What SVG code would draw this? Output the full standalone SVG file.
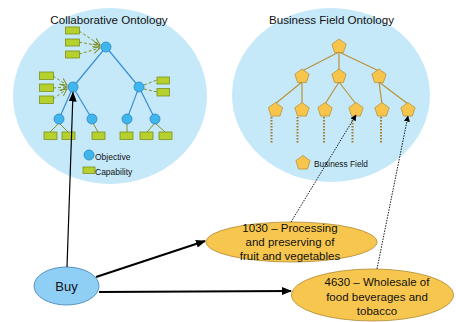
<svg xmlns="http://www.w3.org/2000/svg" width="456" height="322" viewBox="0 0 456 322">
<style>
.t{font-family:"Liberation Sans",Arial,sans-serif;fill:#111}
.obj{fill:#3fb6ec;stroke:#2a86c4;stroke-width:0.8}
.cap{fill:#b6d12e;stroke:#7b901c;stroke-width:0.8}
.bl{stroke:#3a8fd4;stroke-width:1.2;fill:none}
.ol{stroke:#7f9126;stroke-width:1;fill:none}
.od{stroke:#7f9126;stroke-width:1;fill:none;stroke-dasharray:3,2}
.pen{fill:#f8c54c;stroke:#b8923a;stroke-width:0.8}
.br{stroke:#b8923a;stroke-width:1.2;fill:none}
.bd{stroke:#a07a2a;stroke-width:2;fill:none;stroke-dasharray:1.5,1.5}
.blk{stroke:#000;fill:none}
</style>
<defs>
<path id="pent" d="M0,-7.5 L7.13,-2.32 L4.41,6.07 L-4.41,6.07 L-7.13,-2.32 Z"/>
<marker id="ah" markerWidth="10" markerHeight="8" refX="9" refY="4" orient="auto" markerUnits="userSpaceOnUse">
<path d="M0,0 L10,4 L0,8 Z" fill="#000"/>
</marker>
<marker id="ahs" markerWidth="6" markerHeight="6" refX="5.5" refY="3" orient="auto" markerUnits="userSpaceOnUse">
<path d="M0,0 L6,3 L0,6 Z" fill="#000"/>
</marker>
<marker id="oa" markerWidth="8" markerHeight="8" refX="7" refY="4" orient="auto" markerUnits="userSpaceOnUse">
<path d="M0,0.5 L7,4 L0,7.5" fill="none" stroke="#7f9126" stroke-width="1"/>
</marker>
</defs>
<rect width="456" height="322" fill="#fff"/>

<g id="collaborative-ontology">
<ellipse cx="110" cy="96" rx="97" ry="88" fill="#c6e9fa"/>
<text class="t" x="109" y="24" font-size="11.6" text-anchor="middle">Collaborative Ontology</text>
<g id="co-lines">
<line class="bl" x1="106" y1="47" x2="73" y2="87"/>
<line class="bl" x1="106" y1="47" x2="139" y2="87"/>
<line class="bl" x1="73" y1="87" x2="59" y2="119"/>
<line class="bl" x1="73" y1="87" x2="92" y2="119"/>
<line class="bl" x1="139" y1="87" x2="127" y2="119"/>
<line class="bl" x1="139" y1="87" x2="155" y2="119"/>
<line class="ol" x1="59" y1="123" x2="50" y2="132"/>
<line class="ol" x1="59" y1="123" x2="68" y2="132"/>
<line class="ol" x1="93" y1="123" x2="98" y2="132"/>
<line class="ol" x1="127" y1="124" x2="127" y2="132"/>
<line class="ol" x1="155" y1="123" x2="147" y2="132"/>
<line class="ol" x1="155" y1="123" x2="165" y2="132"/>
<line class="od" x1="79" y1="31" x2="100" y2="45" marker-end="url(#oa)"/>
<line class="od" x1="79" y1="42" x2="100" y2="46" marker-end="url(#oa)"/>
<line class="od" x1="79" y1="54" x2="100" y2="48" marker-end="url(#oa)"/>
<line class="od" x1="53" y1="76" x2="67" y2="85" marker-end="url(#oa)"/>
<line class="od" x1="53" y1="88" x2="67" y2="87" marker-end="url(#oa)"/>
<line class="od" x1="53" y1="99" x2="67" y2="89" marker-end="url(#oa)"/>
<line class="od" x1="144" y1="85" x2="157" y2="80"/>
<line class="od" x1="144" y1="89" x2="157" y2="92"/>
</g>
<g id="co-objectives">
<circle class="obj" cx="106" cy="47" r="5"/>
<circle class="obj" cx="73" cy="87" r="5"/>
<circle class="obj" cx="139" cy="87" r="5"/>
<circle class="obj" cx="59" cy="119" r="5"/>
<circle class="obj" cx="92" cy="119" r="5"/>
<circle class="obj" cx="127" cy="119" r="5"/>
<circle class="obj" cx="155" cy="119" r="5"/>
</g>
<g id="co-capabilities">
<rect class="cap" x="65.5" y="27" width="14" height="7"/>
<rect class="cap" x="65.5" y="39" width="14" height="7"/>
<rect class="cap" x="65.5" y="51" width="14" height="7"/>
<rect class="cap" x="39.5" y="72" width="14" height="7.5"/>
<rect class="cap" x="39.5" y="84" width="14" height="7.5"/>
<rect class="cap" x="39.5" y="96" width="14" height="7.5"/>
<rect class="cap" x="157" y="77" width="12.5" height="7"/>
<rect class="cap" x="157" y="88.5" width="12.5" height="7.5"/>
<rect class="cap" x="44" y="132" width="13" height="7.5"/>
<rect class="cap" x="62" y="132" width="13" height="7.5"/>
<rect class="cap" x="92" y="132" width="13" height="7.5"/>
<rect class="cap" x="120" y="132" width="13" height="7.5"/>
<rect class="cap" x="140" y="132" width="13" height="7.5"/>
<rect class="cap" x="159" y="132" width="13" height="7.5"/>
</g>
<g id="co-legend">
<circle class="obj" cx="89" cy="155" r="5"/>
<text class="t" x="95" y="160" font-size="8.5">Objective</text>
<rect class="cap" x="83" y="167" width="12" height="6.5"/>
<text class="t" x="95" y="175" font-size="8.5">Capability</text>
</g>
</g>

<g id="business-field-ontology">
<ellipse cx="331" cy="95" rx="99" ry="87" fill="#c6e9fa"/>
<text class="t" x="331.5" y="24" font-size="11.6" text-anchor="middle">Business Field Ontology</text>
<g id="bf-lines">
<line class="br" x1="339" y1="52" x2="302" y2="71"/>
<line class="br" x1="339" y1="52" x2="339" y2="71"/>
<line class="br" x1="339" y1="52" x2="379" y2="71"/>
<line class="br" x1="302" y1="82" x2="275" y2="104"/>
<line class="br" x1="302" y1="82" x2="302" y2="104"/>
<line class="br" x1="339" y1="82" x2="325" y2="104"/>
<line class="br" x1="339" y1="82" x2="356" y2="104"/>
<line class="br" x1="379" y1="82" x2="382" y2="104"/>
<line class="br" x1="379" y1="82" x2="408" y2="104"/>
<line class="bd" x1="271.5" y1="117" x2="271.5" y2="143"/>
<line class="bd" x1="297.5" y1="117" x2="297.5" y2="143"/>
<line class="bd" x1="324" y1="117" x2="324" y2="143"/>
<line class="bd" x1="352.5" y1="117" x2="352.5" y2="143"/>
<line class="bd" x1="381" y1="117" x2="381" y2="143"/>
</g>
<g id="bf-fields">
<use href="#pent" class="pen" x="339" y="46.5"/>
<use href="#pent" class="pen" x="302" y="76.5"/>
<use href="#pent" class="pen" x="339" y="76.5"/>
<use href="#pent" class="pen" x="379" y="76.5"/>
<use href="#pent" class="pen" x="275.5" y="110"/>
<use href="#pent" class="pen" x="302" y="110"/>
<use href="#pent" class="pen" x="325" y="110"/>
<use href="#pent" class="pen" x="356" y="110"/>
<use href="#pent" class="pen" x="382" y="110"/>
<use href="#pent" class="pen" x="408" y="110"/>
</g>
<g id="bf-legend">
<use href="#pent" class="pen" x="303" y="163"/>
<text class="t" x="314" y="167" font-size="8.3">Business Field</text>
</g>
</g>

<g id="buy">
<ellipse cx="66.5" cy="286" rx="32.5" ry="19" fill="#8fcff6" stroke="#3a7fb0" stroke-width="0.8"/>
<text class="t" x="66.5" y="291" font-size="13" text-anchor="middle">Buy</text>
</g>

<g id="field-1030">
<ellipse cx="291.5" cy="242" rx="85.5" ry="20" fill="#f7c64f" stroke="#b08a35" stroke-width="0.8"/>
<text class="t" x="290" y="232" font-size="11.5" text-anchor="middle">1030 – Processing</text>
<text class="t" x="290" y="246" font-size="11.5" text-anchor="middle">and preserving of</text>
<text class="t" x="290" y="260" font-size="11.5" text-anchor="middle">fruit and vegetables</text>
</g>

<g id="field-4630">
<ellipse cx="372.5" cy="295" rx="81" ry="26" fill="#f7c64f" stroke="#b08a35" stroke-width="0.8"/>
<text class="t" x="377" y="286" font-size="11.5" text-anchor="middle">4630 – Wholesale of</text>
<text class="t" x="377" y="300.5" font-size="11.5" text-anchor="middle">food beverages and</text>
<text class="t" x="377" y="315" font-size="11.5" text-anchor="middle">tobacco</text>
</g>

<g id="connectors">
<line class="blk" stroke-width="1.2" x1="67" y1="267" x2="73" y2="92.5" marker-end="url(#ah)"/>
<line class="blk" stroke-width="2" x1="96" y1="277" x2="205" y2="241" marker-end="url(#ah)"/>
<line class="blk" stroke-width="2" x1="99" y1="292" x2="291" y2="291" marker-end="url(#ah)"/>
<line class="blk" stroke-width="0.9" stroke-dasharray="1.5,1.2" x1="291" y1="222" x2="356" y2="115" marker-end="url(#ahs)"/>
<line class="blk" stroke-width="0.9" stroke-dasharray="1.5,1.2" x1="377" y1="269" x2="408" y2="116" marker-end="url(#ahs)"/>
</g>
</svg>
